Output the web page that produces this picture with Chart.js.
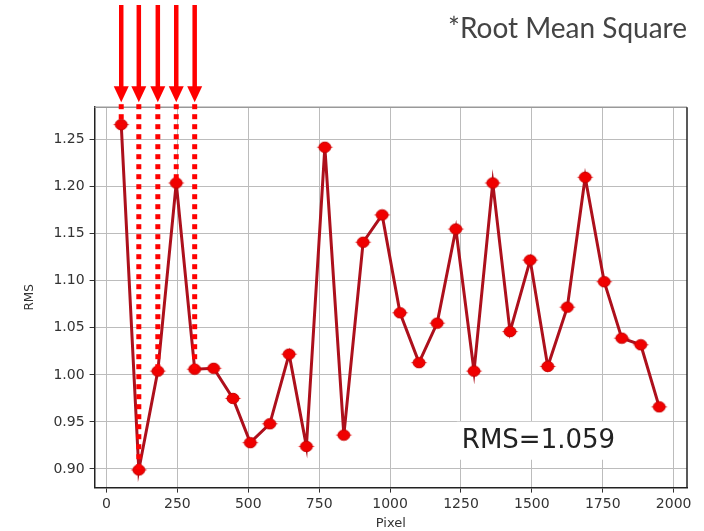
<!DOCTYPE html>
<html>
<head>
<meta charset="utf-8">
<script src="https://cdn.jsdelivr.net/npm/chart.js@4/dist/chart.umd.min.js"></script>
<style>
  html, body { margin: 0; padding: 0; background: #fff; }
  #wrap { width: 704px; height: 531px; }
</style>
</head>
<body>
<div id="wrap"><canvas id="rmsChart" width="704" height="531"></canvas></div>
<script>
// pixel position and RMS value of each sample
const pixels = [52, 114, 181, 246, 311, 378, 446, 507, 576, 644, 705, 770, 837, 905, 972,
  1035, 1102, 1166, 1232, 1296, 1362, 1423, 1494, 1556, 1625, 1688, 1755, 1817, 1884, 1949];
const rms = [1.266, 0.899, 1.004, 1.204, 1.006, 1.007, 0.975, 0.928, 0.948, 1.022, 0.924, 1.242, 0.936, 1.141, 1.170,
  1.066, 1.013, 1.055, 1.155, 1.004, 1.204, 1.046, 1.122, 1.009, 1.072, 1.210, 1.099, 1.039, 1.032, 0.966];
const arrowCount = 5;          // first samples marked by arrows
const rmsLabel = "RMS=1.059";
const noteText = "*Root Mean Square";

// marker: red blob with small horizontal spikes
function makeMarker() {
  const c = document.createElement("canvas");
  c.width = 18; c.height = 13;
  const g = c.getContext("2d");
  g.fillStyle = "#f00000";
  g.strokeStyle = "#c80000";
  g.lineWidth = 1;
  g.beginPath();
  g.moveTo(0.5, 6.5); g.lineTo(9, 4.5); g.lineTo(17.5, 6.5); g.lineTo(9, 8.5); g.closePath();
  g.fill();
  g.beginPath();
  g.ellipse(9, 6.5, 6, 5.2, 0, 0, Math.PI * 2);
  g.fill(); g.stroke();
  return c;
}

const arrowPlugin = {
  id: "arrows",
  beforeDatasetsDraw(chart) {
    // white box behind the RMS annotation
    const { ctx, scales: { x, y } } = chart;
    ctx.save();
    ctx.font = "26px 'DejaVu Sans'";
    const w = ctx.measureText(rmsLabel).width;
    const lx = x.getPixelForValue(1246), ly = y.getPixelForValue(0.930);
    ctx.fillStyle = "#fff";
    ctx.fillRect(lx - 3, ly - 19, w + 10, 38);
    ctx.fillStyle = "#222";
    ctx.textBaseline = "middle";
    ctx.fillText(rmsLabel, lx + 2, ly + 1);
    ctx.restore();
  },
  afterDatasetsDraw(chart) {
    const { ctx, chartArea, scales: { x, y } } = chart;
    ctx.save();
    // frame top and right
    ctx.lineWidth = 1.5;
    ctx.strokeStyle = "#999";
    ctx.beginPath();
    ctx.moveTo(chartArea.left, chartArea.top); ctx.lineTo(chartArea.right, chartArea.top);
    ctx.stroke();
    ctx.strokeStyle = "#222";
    ctx.beginPath();
    ctx.moveTo(chartArea.right, chartArea.top); ctx.lineTo(chartArea.right, chartArea.bottom);
    ctx.stroke();

    const tip = chartArea.top - 5;
    for (let i = 0; i < arrowCount; i++) {
      const px = x.getPixelForValue(pixels[i]);
      const py = y.getPixelForValue(rms[i]);
      ctx.strokeStyle = "#ff0000";
      ctx.fillStyle = "#ff0000";
      // dotted guide
      ctx.lineWidth = 5;
      ctx.setLineDash([5, 5]);
      ctx.beginPath();
      ctx.moveTo(px, tip + 2); ctx.lineTo(px, py);
      ctx.stroke();
      ctx.setLineDash([]);
      // arrow shaft and head
      ctx.lineWidth = 4.5;
      ctx.beginPath();
      ctx.moveTo(px, 5); ctx.lineTo(px, tip - 12);
      ctx.stroke();
      ctx.beginPath();
      ctx.moveTo(px - 7.5, tip - 16); ctx.lineTo(px + 7.5, tip - 16); ctx.lineTo(px, tip);
      ctx.closePath();
      ctx.fill();
    }
    ctx.restore();
  }
};

const tickFont = { family: "DejaVu Sans", size: 14 };

new Chart(document.getElementById("rmsChart"), {
  type: "line",
  data: {
    datasets: [{
      data: pixels.map((p, i) => ({ x: p, y: rms[i] })),
      borderColor: "#ad101c",
      borderWidth: 3,
      pointStyle: makeMarker(),
      tension: 0
    }]
  },
  options: {
    responsive: false,
    animation: false,
    layout: { padding: { left: 23, right: 17, top: 0, bottom: 0 } },
    plugins: {
      legend: { display: false },
      tooltip: { enabled: false },
      title: {
        display: true,
        text: noteText,
        align: "end",
        color: "#444",
        font: { family: "Lato", size: 28, weight: "normal" },
        padding: { top: 12, bottom: 61.6 }
      }
    },
    scales: {
      x: {
        type: "linear",
        min: -42,
        max: 2047,
        ticks: {
          stepSize: 250, includeBounds: false, color: "#333", font: tickFont, padding: 3, maxRotation: 0,
          callback: v => String(v)
        },
        grid: { color: "#bcbcbc", tickColor: "#333", tickLength: 5 },
        border: { color: "#222", width: 1.5 },
        title: { display: true, text: "Pixel", color: "#333", font: { family: "DejaVu Sans", size: 13 }, padding: { top: 0, bottom: 0 } }
      },
      y: {
        min: 0.8802,
        max: 1.2845,
        ticks: {
          stepSize: 0.05, includeBounds: false, color: "#333", font: tickFont, padding: 5,
          callback: v => v.toFixed(2)
        },
        grid: { color: "#bcbcbc", tickColor: "#333", tickLength: 5 },
        border: { color: "#222", width: 1.5 },
        title: { display: true, text: "RMS", color: "#333", font: { family: "DejaVu Sans", size: 12 }, padding: { top: 0, bottom: 11 } }
      }
    }
  },
  plugins: [arrowPlugin]
});
</script>
</body>
</html>
